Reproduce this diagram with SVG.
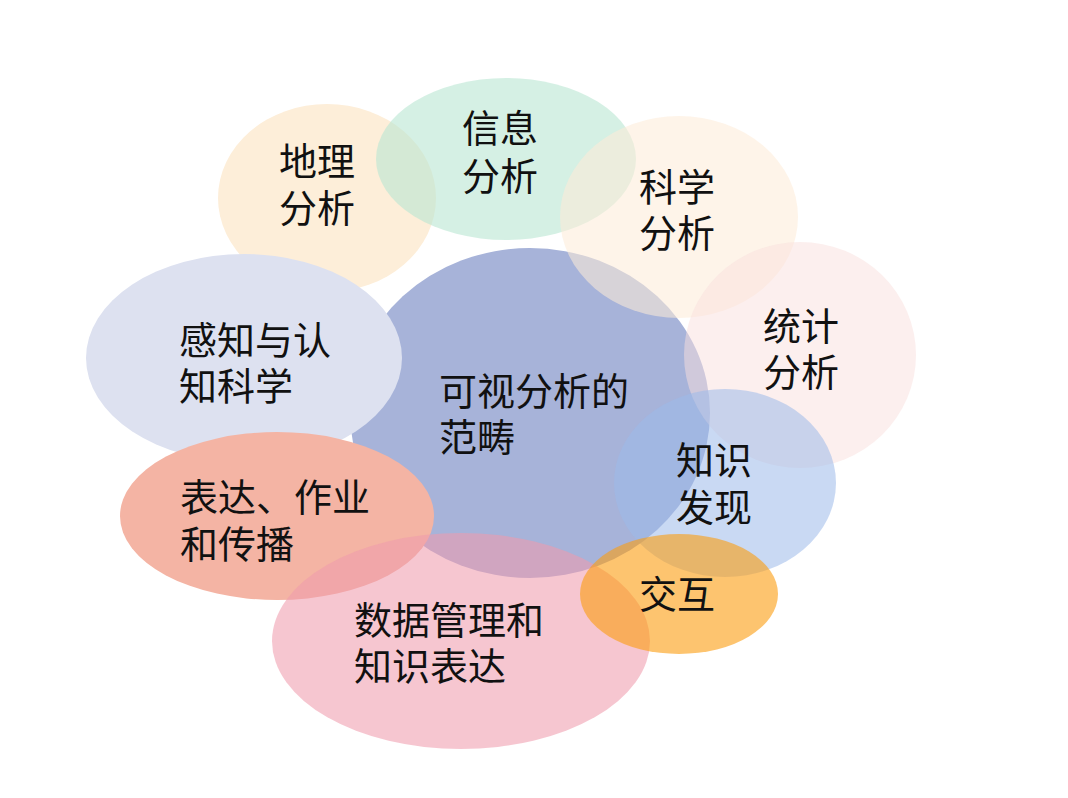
<svg xmlns="http://www.w3.org/2000/svg" width="1068" height="798" viewBox="0 0 1068 798">
<style>
text{font-family:"Noto Sans CJK SC","Noto Sans",sans-serif;font-size:38px;fill:#111111}
</style>
<rect width="1068" height="798" fill="#ffffff"/>
<g id="center">
<ellipse cx="530" cy="413" rx="180" ry="165" fill="#a7b3d9"/>
</g>
<g id="dili">
<ellipse cx="327" cy="198" rx="109" ry="94" fill="#fdeed9"/>
</g>
<g id="xinxi">
<ellipse cx="506" cy="159" rx="130" ry="81" fill="#b9e6d2" fill-opacity="0.6"/>
</g>
<g id="kexue">
<ellipse cx="679" cy="217" rx="119" ry="101" fill="#fdecd8" fill-opacity="0.56"/>
</g>
<g id="tongji">
<ellipse cx="800" cy="355" rx="116" ry="113" fill="#f9e0de" fill-opacity="0.5"/>
</g>
<g id="zhishi">
<ellipse cx="725" cy="483" rx="111" ry="94" fill="#9dbae9" fill-opacity="0.55"/>
</g>
<g id="ganzhi">
<ellipse cx="244" cy="358" rx="158" ry="104" fill="#dde1f0"/>
</g>
<g id="biaoda">
<ellipse cx="277" cy="516" rx="157" ry="84" fill="#f4b4a4"/>
</g>
<g id="shuju">
<ellipse cx="461" cy="641" rx="189" ry="108" fill="#f09aac" fill-opacity="0.57"/>
</g>
<g id="jiaohu">
<ellipse cx="679" cy="594" rx="99" ry="60" fill="#fc9d0f" fill-opacity="0.6"/>
</g>
<g id="labels">
<text><tspan x="279" y="175">地理</tspan><tspan x="279" y="222">分析</tspan></text>
<text><tspan x="462" y="142">信息</tspan><tspan x="462" y="190">分析</tspan></text>
<text><tspan x="639" y="201">科学</tspan><tspan x="639" y="247">分析</tspan></text>
<text><tspan x="763" y="340">统计</tspan><tspan x="763" y="386">分析</tspan></text>
<text><tspan x="179" y="354">感知与认</tspan><tspan x="179" y="400">知科学</tspan></text>
<text><tspan x="439" y="405">可视分析的</tspan><tspan x="439" y="451">范畴</tspan></text>
<text><tspan x="676" y="474">知识</tspan><tspan x="676" y="521">发现</tspan></text>
<text><tspan x="180" y="511">表达、作业</tspan><tspan x="180" y="558">和传播</tspan></text>
<text x="639" y="608">交互</text>
<text><tspan x="354" y="634">数据管理和</tspan><tspan x="354" y="680">知识表达</tspan></text>
</g>
</svg>
